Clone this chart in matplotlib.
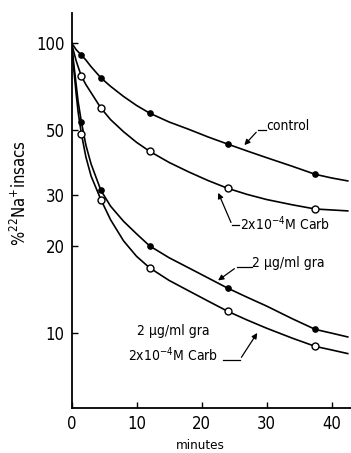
import matplotlib
matplotlib.use("Agg")
import matplotlib.pyplot as plt

# measured points (minutes, % 22Na+ in sacs)
t_points = [1.5, 4.5, 12, 24, 37.5]
control = [91, 76, 57.4, 44.9, 35.3]
carb = [77, 59.8, 42.4, 31.6, 26.8]
gra = [53.6, 31.1, 20.0, 14.3, 10.3]
gra_carb = [48.8, 28.9, 16.8, 11.9, 9.0]

# smooth curves
t_curve = [0, 0.3, 0.7, 1.0, 1.5, 2.2, 3, 4.5, 6, 8, 10, 12, 15, 18, 21, 24, 27, 30, 34, 37.5, 40, 42.5]
control_curve = [100, 98, 95, 93.5, 91, 87.5, 83, 76, 71, 65.5, 61, 57.4, 53.5, 50.5, 47.5, 44.9, 42.5, 40.3, 37.6, 35.3, 34.3, 33.5]
carb_curve = [100, 94, 87, 83, 77, 72, 67.5, 59.8, 54.5, 49.5, 45.5, 42.4, 38.8, 36.0, 33.6, 31.6, 30.1, 28.9, 27.7, 26.8, 26.6, 26.4]
gra_curve = [100, 86, 72, 63, 53.6, 44.5, 38.3, 31.1, 27.4, 24.3, 22.0, 20.0, 18.2, 16.8, 15.5, 14.3, 13.3, 12.4, 11.2, 10.3, 10.0, 9.7]
gra_carb_curve = [100, 83, 67, 58, 48.8, 40.5, 34.8, 28.9, 24.6, 20.8, 18.4, 16.8, 15.2, 14.0, 12.9, 11.9, 11.1, 10.4, 9.6, 9.0, 8.75, 8.5]

x_ticks = [0, 10, 20, 30, 40]
y_ticks = [10, 20, 30, 50, 100]

plt.rcParams['font.family'] = ['DejaVu Sans']
plt.rcParams['font.stretch'] = 'condensed'

fig = plt.figure(figsize=(3.51, 4.53), dpi=100)
ax = fig.add_axes([0.204, 0.099, 0.796, 0.872])
ax.set_yscale('log')
ax.set_xlim(0, 43)
ax.set_ylim(5.51, 127)

lw = 1.2
for c in (control_curve, carb_curve, gra_curve, gra_carb_curve):
    ax.plot(t_curve, c, color='black', lw=lw, zorder=2)

for vals in (control, gra):
    ax.plot(t_points, vals, 'o', ms=3.8, mfc='black', mec='black', zorder=3)
for vals in (carb, gra_carb):
    ax.plot(t_points, vals, 'o', ms=5.0, mfc='white', mec='black', mew=1.0, zorder=3)

ax.set_xticks(x_ticks)
ax.set_xticklabels([str(v) for v in x_ticks])
ax.set_yticks(y_ticks)
ax.set_yticklabels([str(v) for v in y_ticks])
ax.minorticks_off()
ax.tick_params(direction='in', length=4, width=1, labelsize=12)
ax.tick_params(axis='x', pad=5)
ax.tick_params(axis='y', pad=5)
for s in ('top', 'right'):
    ax.spines[s].set_visible(False)
for s in ('left', 'bottom'):
    ax.spines[s].set_linewidth(1.3)

ax.set_xlabel('minutes', fontsize=9.5)
ax.xaxis.set_label_coords(0.46, -0.078)
ax.set_ylabel('%$^{22}$Na$^{+}$insacs', fontsize=12)
ax.yaxis.set_label_coords(-0.150, 0.544)

tf = dict(fontsize=10, ha='left', va='center')
arrow = dict(arrowstyle='-|>', color='black', lw=0.9, mutation_scale=8)

# control label
ax.text(30.0, 51.8, 'control', **tf)
ax.plot([28.7, 29.9], [50.1, 50.1], color='black', lw=0.9)
ax.annotate('', xy=(26.3, 43.8), xytext=(28.7, 50.1), arrowprops=arrow)

# carb label
ax.text(25.9, 23.9, '2x10$^{-4}$M Carb', **tf)
ax.plot([24.7, 25.8], [23.6, 23.6], color='black', lw=0.9)
ax.annotate('', xy=(22.4, 31.1), xytext=(24.7, 23.6), arrowprops=arrow)

# gra label
ax.text(27.8, 17.4, '2 μg/ml gra', **tf)
ax.plot([25.4, 27.7], [16.9, 16.9], color='black', lw=0.9)
ax.annotate('', xy=(22.2, 15.0), xytext=(25.4, 16.9), arrowprops=arrow)

# gra + carb label
ax.text(10.0, 10.2, '2 μg/ml gra', **tf)
ax.text(8.7, 8.4, '2x10$^{-4}$M Carb', **tf)
ax.plot([23.3, 25.9], [8.1, 8.1], color='black', lw=0.9)
ax.annotate('', xy=(28.8, 10.2), xytext=(25.9, 8.1), arrowprops=arrow)

fig.savefig('out.png', dpi=100)
